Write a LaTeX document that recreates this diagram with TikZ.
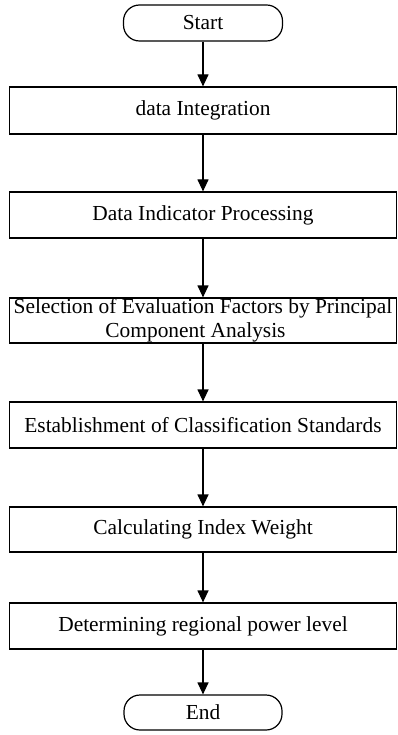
\documentclass[tikz,border=0pt]{standalone}
\usepackage{fontspec}
\setmainfont{Liberation Serif}
\usetikzlibrary{arrows.meta,shapes.misc}
\tikzset{
  stepbox/.style={draw, line width=1.2pt, minimum width=387pt, inner sep=0pt,
    align=center, font=\fontsize{21.4}{24}\selectfont},
  terminal/.style={draw, line width=1.2pt, rounded corners=16pt, minimum width=159pt,
    minimum height=36pt, inner sep=0pt, font=\fontsize{21.4}{24}\selectfont},
  flow/.style={line width=1.2pt, -{Triangle[width=11pt,length=12pt]}}
}
\begin{document}
\begin{tikzpicture}[x=1pt,y=-1pt]
  \useasboundingbox (0,0) rectangle (397,735);
  \node[terminal] (start) at (203,23) {Start};
  \node[stepbox, minimum height=47pt] (b1) at (203,110.5) {data Integration};
  \node[stepbox, minimum height=46pt] (b2) at (203,215) {Data Indicator Processing};
  \node[stepbox, minimum height=45pt] (b3) at (203,320.5)
    {Selection of Evaluation Factors by Principal\\Component Analysis\hspace*{15pt}};
  \node[stepbox, minimum height=46pt] (b4) at (203,425) {Establishment of Classification Standards};
  \node[stepbox, minimum height=45pt] (b5) at (203,529.5) {Calculating Index Weight};
  \node[stepbox, minimum height=46pt] (b6) at (203,626) {Determining regional power level};
  \node[terminal, minimum width=158pt, minimum height=35pt] (end) at (203,712.5) {End};
  \draw[flow] (start) -- (b1);
  \draw[flow] (b1) -- (b2);
  \draw[flow] (b2) -- (b3);
  \draw[flow] (b3) -- (b4);
  \draw[flow] (b4) -- (b5);
  \draw[flow] (b5) -- (b6);
  \draw[flow] (b6) -- (end);
\end{tikzpicture}
\end{document}
